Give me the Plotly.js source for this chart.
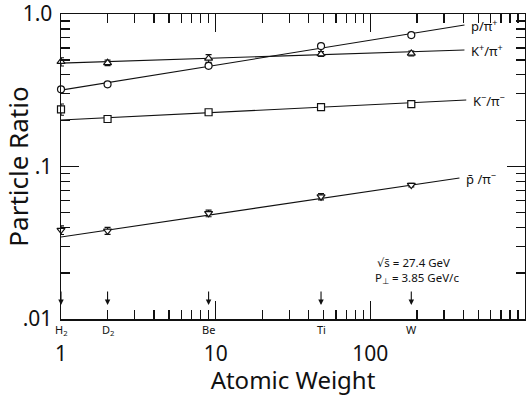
<!DOCTYPE html>
<html>
<head>
<meta charset="utf-8">
<script src="https://cdn.plot.ly/plotly-3.0.1.min.js"></script>
<style>html,body{margin:0;padding:0;background:#fff;}#chart{width:526px;height:396px;}</style>
</head>
<body>
<div id="chart"></div>
<script>
// Targets (atomic weight)
const targets = ['H<sub>2</sub>', 'D<sub>2</sub>', 'Be', 'Ti', 'W'];
const atomicWeight = [1, 2, 9, 48, 184];

// Measured ratios
const pPiPlus = [0.321, 0.346, 0.458, 0.617, 0.728];
const pPiPlusErr = [0.012, 0.008, 0.01, 0.012, 0.012];
const kPlusPiPlus = [0.487, 0.479, 0.512, 0.547, 0.552];
const kPlusPiPlusErr = [0.03, 0.02, 0.03, 0.02, 0.02];
const kMinusPiMinus = [0.237, 0.205, 0.227, 0.245, 0.257];
const kMinusPiMinusErr = [0.02, 0.006, 0.006, 0.006, 0.006];
const pbarPiMinus = [0.0383, 0.0379, 0.0493, 0.0634, 0.0756];
const pbarPiMinusErr = [0.0025, 0.002, 0.0025, 0.003, 0.002];

// Fitted lines (endpoints)
const fitPX = [1, 406], fitPY = [0.317, 0.847];
const fitKpX = [1, 406], fitKpY = [0.477, 0.581];
const fitKmX = [1, 417], fitKmY = [0.202, 0.273];
const fitPbX = [1, 377], fitPbY = [0.0345, 0.0841];

const seriesLabels = ['p/π<sup>+</sup>', 'K<sup>+</sup>/π<sup>+</sup>', 'K<sup>−</sup>/π<sup>−</sup>', 'p̄ /π<sup>−</sup>'];

const xRange = [1, 1000];
const yRange = [0.01, 1];
const xTickVals = [1, 10, 100];
const xTickText = ['1', '10', '100'];
const yTickVals = [0.01, 0.1, 1];
const yTickText = ['.01', '.1', '1.0'];
const xMinor = [2,3,4,5,6,7,8,9,20,30,40,50,60,70,80,90,200,300,400,500,600,700,800,900];
const yMinor = [0.02,0.03,0.04,0.05,0.06,0.07,0.08,0.09,0.2,0.3,0.4,0.5,0.6,0.7,0.8,0.9];

const FONT = 'Noto Sans, DejaVu Sans, sans-serif';
const ink = '#111';

function fit(x, y) {
  return {x: x, y: y, type: 'scatter', mode: 'lines', line: {color: ink, width: 1.1}, hoverinfo: 'skip', showlegend: false};
}
function pts(y, err, sym) {
  return {x: atomicWeight, y: y, type: 'scatter', mode: 'markers', cliponaxis: false,
    marker: {symbol: sym, size: 7, color: '#fff', line: {color: ink, width: 1.2}},
    error_y: {type: 'data', array: err, visible: true, color: ink, thickness: 1.1, width: 3},
    showlegend: false};
}

const data = [
  fit(fitPX, fitPY), fit(fitKpX, fitKpY), fit(fitKmX, fitKmY), fit(fitPbX, fitPbY),
  pts(pPiPlus, pPiPlusErr, 'circle'),
  pts(kPlusPiPlus, kPlusPiPlusErr, 'triangle-up'),
  pts(kMinusPiMinus, kMinusPiMinusErr, 'square'),
  pts(pbarPiMinus, pbarPiMinusErr, 'triangle-down'),
  // carrier for the minor-tick axes (invisible)
  {x: xRange, y: yRange, xaxis: 'x2', yaxis: 'y2', type: 'scatter', mode: 'lines',
   line: {width: 0}, opacity: 0, hoverinfo: 'skip', showlegend: false}
];

const ann = [];
const labelY = [fitPY[1], fitKpY[1], fitKmY[1], fitPbY[1]];
const labelX = [fitPX[1], fitKpX[1], fitKmX[1], fitPbX[1]];
for (let i = 0; i < 4; i++) {
  ann.push({x: Math.log10(labelX[i]), y: Math.log10(labelY[i]), xref: 'x', yref: 'y',
    text: seriesLabels[i], showarrow: false, xanchor: 'left', xshift: 5, yanchor: 'middle',
    font: {family: FONT, size: 13, color: ink}});
}
for (let i = 0; i < targets.length; i++) {
  ann.push({x: Math.log10(atomicWeight[i]), y: 0.046, xref: 'x', yref: 'paper', text: '',
    showarrow: true, arrowhead: 2, arrowsize: 1, arrowwidth: 1.1, arrowcolor: ink, ax: 0, ay: -15});
  ann.push({x: Math.log10(atomicWeight[i]), y: -0.036, xref: 'x', yref: 'paper', text: targets[i],
    showarrow: false, xanchor: 'center', yanchor: 'middle', font: {family: FONT, size: 11, color: ink}});
}
ann.push({x: 0.677, y: 0.186, xref: 'paper', yref: 'paper', text: '√s̄ = 27.4 GeV', showarrow: false,
  xanchor: 'left', yanchor: 'middle', font: {family: FONT, size: 11.5, color: ink}});
ann.push({x: 0.672, y: 0.133, xref: 'paper', yref: 'paper', text: 'P<sub>⊥</sub> = 3.85 GeV/c', showarrow: false,
  xanchor: 'left', yanchor: 'middle', font: {family: FONT, size: 11.5, color: ink}});

const base = {
  type: 'log', showgrid: false, zeroline: false, showline: true, linecolor: ink, linewidth: 1.5,
  mirror: 'allticks', ticks: 'inside', tickcolor: ink, tickwidth: 1.3, ticklabeloverflow: 'allow',
  tickmode: 'array', tickfont: {family: FONT, size: 21, color: ink}
};

const layout = {
  width: 526, height: 396,
  margin: {l: 61, r: 1, t: 14, b: 77},
  paper_bgcolor: '#fff', plot_bgcolor: 'rgba(0,0,0,0)',
  font: {family: FONT, color: ink},
  xaxis: Object.assign({}, base, {
    range: [0, 3], tickvals: xTickVals, ticktext: xTickText, ticklen: 18, ticklabelstandoff: 15,
    title: {text: 'Atomic Weight', font: {family: FONT, size: 24, color: ink}, standoff: 6}
  }),
  yaxis: Object.assign({}, base, {
    range: [-2, 0.0005], tickvals: yTickVals, ticktext: yTickText, ticklen: 18, ticklabelstandoff: 3,
    title: {text: 'Particle Ratio', font: {family: FONT, size: 26, color: ink}, standoff: 2}
  }),
  xaxis2: Object.assign({}, base, {
    range: [0, 3], overlaying: 'x', anchor: 'y2', side: 'bottom', tickvals: xMinor, ticklen: 9, showticklabels: false
  }),
  yaxis2: Object.assign({}, base, {
    range: [-2, 0.0005], overlaying: 'y', anchor: 'x2', side: 'left', tickvals: yMinor, ticklen: 9, showticklabels: false
  }),
  annotations: ann,
  showlegend: false
};

Plotly.newPlot('chart', data, layout, {staticPlot: true, displayModeBar: false});
</script>
</body>
</html>
